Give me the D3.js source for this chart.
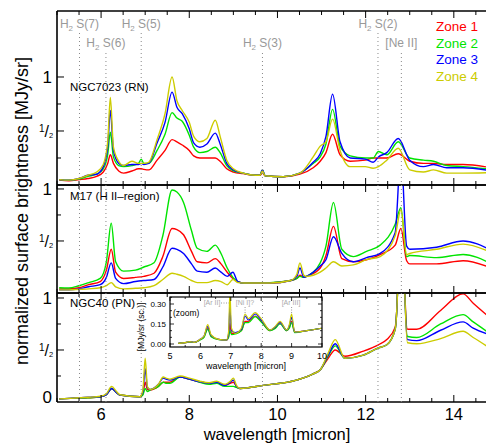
<!DOCTYPE html>
<html>
<head>
<meta charset="utf-8">
<script src="https://cdn.jsdelivr.net/npm/d3@7"></script>
<style>
  body { margin: 0; background: #fff; }
  svg { font-family: "Liberation Sans", Arial, Helvetica, sans-serif; }
</style>
</head>
<body>
<script>
// ---- NGC7023 (reflection nebula) ----
const rn_wl = [5.05, 5.27, 5.5, 5.7, 5.9, 6.05, 6.15, 6.21, 6.28, 6.4, 6.51, 6.7, 6.85, 6.91, 6.97, 7.08, 7.27, 7.45, 7.61, 7.72, 7.84, 8.0, 8.1, 8.24, 8.4, 8.59, 8.7, 8.85, 9.0, 9.22, 9.5, 9.6, 9.66, 9.72, 10.13, 10.51, 10.81, 10.97, 11.1, 11.25, 11.42, 11.65, 11.99, 12.17, 12.29, 12.48, 12.74, 13.0, 13.31, 13.54, 13.84, 14.21, 14.85];
const rn_z1 = [0.045, 0.04, 0.05, 0.06, 0.08, 0.12, 0.2, 0.28, 0.2, 0.13, 0.11, 0.13, 0.15, 0.15, 0.145, 0.14, 0.23, 0.32, 0.42, 0.40, 0.37, 0.32, 0.27, 0.25, 0.25, 0.25, 0.22, 0.15, 0.12, 0.105, 0.09, 0.09, 0.11, 0.085, 0.077, 0.1, 0.16, 0.22, 0.30, 0.47, 0.28, 0.22, 0.23, 0.25, 0.25, 0.25, 0.29, 0.22, 0.20, 0.20, 0.19, 0.19, 0.16];
const rn_z2 = [0.05, 0.045, 0.055, 0.08, 0.1, 0.15, 0.28, 0.49, 0.26, 0.18, 0.17, 0.18, 0.2, 0.24, 0.2, 0.2, 0.32, 0.47, 0.67, 0.62, 0.59, 0.46, 0.35, 0.30, 0.31, 0.35, 0.30, 0.18, 0.13, 0.11, 0.09, 0.09, 0.14, 0.085, 0.077, 0.11, 0.2, 0.26, 0.38, 0.70, 0.36, 0.27, 0.25, 0.25, 0.31, 0.28, 0.40, 0.25, 0.23, 0.22, 0.18, 0.17, 0.145];
const rn_z3 = [0.05, 0.045, 0.06, 0.09, 0.1, 0.17, 0.35, 0.69, 0.32, 0.2, 0.18, 0.19, 0.19, 0.20, 0.19, 0.2, 0.39, 0.58, 0.86, 0.72, 0.66, 0.52, 0.39, 0.35, 0.38, 0.48, 0.38, 0.20, 0.14, 0.11, 0.09, 0.09, 0.14, 0.085, 0.077, 0.11, 0.21, 0.29, 0.45, 0.84, 0.40, 0.25, 0.24, 0.21, 0.26, 0.30, 0.43, 0.23, 0.17, 0.19, 0.16, 0.16, 0.13];
const rn_z4 = [0.05, 0.045, 0.06, 0.09, 0.12, 0.19, 0.4, 0.81, 0.35, 0.22, 0.18, 0.22, 0.2, 0.2, 0.2, 0.21, 0.42, 0.66, 1.0, 0.78, 0.69, 0.58, 0.45, 0.40, 0.43, 0.60, 0.45, 0.23, 0.15, 0.11, 0.09, 0.09, 0.13, 0.085, 0.077, 0.11, 0.26, 0.36, 0.40, 0.61, 0.32, 0.17, 0.17, 0.155, 0.17, 0.23, 0.34, 0.14, 0.12, 0.14, 0.11, 0.11, 0.115];

// ---- M17 (H II region) ----
const m17_wl = [5.05, 5.27, 5.5, 5.72, 5.98, 6.12, 6.23, 6.33, 6.51, 6.78, 6.97, 7.2, 7.4, 7.61, 7.72, 7.87, 8.05, 8.18, 8.4, 8.59, 8.72, 8.86, 8.99, 9.1, 9.24, 9.83, 10.3, 10.44, 10.51, 10.6, 10.66, 10.97, 11.1, 11.27, 11.46, 11.72, 12.02, 12.33, 12.67, 12.8, 12.93, 13.0, 13.61, 14.21, 14.85];
const m17_z1 = [0.04, 0.04, 0.05, 0.08, 0.11, 0.22, 0.42, 0.2, 0.14, 0.15, 0.16, 0.19, 0.35, 0.62, 0.61, 0.56, 0.4, 0.30, 0.29, 0.33, 0.28, 0.20, 0.14, 0.11, 0.096, 0.096, 0.12, 0.14, 0.17, 0.15, 0.16, 0.24, 0.36, 0.64, 0.33, 0.30, 0.32, 0.37, 0.46, 0.62, 0.31, 0.28, 0.28, 0.31, 0.24];
const m17_z2 = [0.05, 0.048, 0.07, 0.10, 0.14, 0.3, 0.67, 0.3, 0.21, 0.22, 0.25, 0.29, 0.55, 0.99, 0.97, 0.87, 0.6, 0.43, 0.40, 0.46, 0.38, 0.24, 0.15, 0.11, 0.096, 0.10, 0.12, 0.14, 0.16, 0.15, 0.16, 0.29, 0.45, 0.87, 0.42, 0.35, 0.40, 0.46, 0.66, 0.82, 0.35, 0.36, 0.34, 0.37, 0.28];
const m17_z3 = [0.03, 0.03, 0.04, 0.06, 0.08, 0.15, 0.29, 0.14, 0.09, 0.11, 0.12, 0.13, 0.25, 0.43, 0.42, 0.38, 0.28, 0.21, 0.20, 0.24, 0.2, 0.16, 0.20, 0.11, 0.096, 0.096, 0.12, 0.16, 0.24, 0.15, 0.16, 0.26, 0.32, 0.54, 0.38, 0.30, 0.34, 0.38, 0.58, 1.35, 0.45, 0.42, 0.44, 0.50, 0.41];
const m17_z4 = [0.03, 0.03, 0.035, 0.04, 0.05, 0.07, 0.10, 0.06, 0.04, 0.045, 0.05, 0.07, 0.13, 0.19, 0.18, 0.16, 0.12, 0.10, 0.10, 0.12, 0.11, 0.08, 0.13, 0.10, 0.096, 0.096, 0.12, 0.18, 0.29, 0.17, 0.16, 0.20, 0.24, 0.30, 0.26, 0.27, 0.32, 0.35, 0.55, 0.80, 0.37, 0.38, 0.42, 0.47, 0.39];

// ---- NGC40 (planetary nebula) ----
const pn_wl = [5.05, 5.3, 5.7, 5.98, 6.12, 6.24, 6.35, 6.43, 6.88, 6.95, 7.0, 7.05, 7.11, 7.3, 7.41, 7.47, 7.56, 7.79, 8.0, 8.24, 8.45, 8.62, 8.8, 8.93, 9.0, 9.07, 9.15, 9.68, 10.43, 10.81, 10.97, 11.15, 11.31, 11.53, 11.95, 12.29, 12.48, 12.67, 12.74, 12.81, 12.88, 12.95, 13.16, 13.7, 14.21, 14.44, 14.85];
const pn_z1 = [0.03, 0.035, 0.04, 0.05, 0.07, 0.13, 0.09, 0.067, 0.05, 0.08, 0.19, 0.12, 0.115, 0.15, 0.19, 0.19, 0.19, 0.24, 0.22, 0.195, 0.18, 0.19, 0.16, 0.18, 0.19, 0.15, 0.13, 0.16, 0.21, 0.27, 0.31, 0.42, 0.50, 0.44, 0.49, 0.55, 0.60, 0.72, 1.3, 3.0, 1.2, 0.70, 0.70, 0.88, 1.04, 0.95, 0.80];
const pn_z2 = [0.03, 0.035, 0.04, 0.05, 0.07, 0.13, 0.09, 0.067, 0.05, 0.07, 0.13, 0.1, 0.115, 0.15, 0.19, 0.18, 0.18, 0.24, 0.22, 0.19, 0.17, 0.18, 0.15, 0.15, 0.15, 0.14, 0.13, 0.16, 0.21, 0.27, 0.31, 0.44, 0.54, 0.42, 0.45, 0.52, 0.55, 0.70, 1.3, 3.0, 1.2, 0.63, 0.62, 0.75, 0.84, 0.77, 0.65];
const pn_z3 = [0.03, 0.035, 0.045, 0.05, 0.07, 0.13, 0.09, 0.067, 0.05, 0.1, 0.32, 0.14, 0.12, 0.17, 0.23, 0.22, 0.21, 0.24, 0.22, 0.195, 0.18, 0.19, 0.16, 0.19, 0.21, 0.15, 0.13, 0.16, 0.21, 0.27, 0.31, 0.45, 0.56, 0.42, 0.45, 0.52, 0.55, 0.70, 1.3, 3.0, 1.2, 0.60, 0.59, 0.69, 0.77, 0.71, 0.64];
const pn_z4 = [0.03, 0.035, 0.045, 0.055, 0.08, 0.15, 0.1, 0.07, 0.05, 0.12, 0.42, 0.15, 0.12, 0.17, 0.24, 0.23, 0.22, 0.25, 0.23, 0.2, 0.185, 0.2, 0.17, 0.2, 0.23, 0.16, 0.13, 0.16, 0.21, 0.27, 0.31, 0.47, 0.60, 0.42, 0.45, 0.52, 0.55, 0.70, 1.3, 3.0, 1.2, 0.57, 0.56, 0.61, 0.68, 0.62, 0.51];

// ---- NGC40 inset (zoom, 5-10 micron) ----
const zoom_wl = [5.27, 5.5, 5.65, 5.8, 5.99, 6.12, 6.24, 6.35, 6.6, 6.86, 6.93, 6.97, 7.02, 7.15, 7.35, 7.47, 7.58, 7.8, 8.0, 8.29, 8.45, 8.62, 8.84, 8.93, 9.0, 9.1, 9.5, 9.99];
const zoom_z1 = [0.005, 0.01, 0.015, 0.012, 0.033, 0.055, 0.12, 0.06, 0.035, 0.03, 0.06, 0.155, 0.08, 0.08, 0.1, 0.17, 0.17, 0.21, 0.17, 0.1, 0.12, 0.16, 0.1, 0.13, 0.17, 0.09, 0.1, 0.118];
const zoom_z2 = [0.005, 0.01, 0.015, 0.012, 0.03, 0.05, 0.11, 0.055, 0.033, 0.03, 0.05, 0.10, 0.07, 0.075, 0.1, 0.16, 0.16, 0.205, 0.165, 0.1, 0.115, 0.15, 0.1, 0.12, 0.16, 0.085, 0.1, 0.118];
const zoom_z3 = [0.005, 0.01, 0.018, 0.012, 0.035, 0.06, 0.13, 0.065, 0.035, 0.03, 0.08, 0.28, 0.1, 0.085, 0.11, 0.21, 0.18, 0.225, 0.18, 0.105, 0.125, 0.16, 0.105, 0.14, 0.2, 0.09, 0.1, 0.118];
const zoom_z4 = [0.005, 0.01, 0.018, 0.012, 0.035, 0.06, 0.145, 0.07, 0.035, 0.03, 0.1, 0.4, 0.12, 0.08, 0.12, 0.225, 0.19, 0.235, 0.19, 0.105, 0.13, 0.17, 0.105, 0.15, 0.225, 0.09, 0.1, 0.118];

const zoneNames = ["Zone 1", "Zone 2", "Zone 3", "Zone 4"];
const xTickLabels = [6, 8, 10, 12, 14];

// emission line markers
const lineWl = [5.51, 6.11, 6.91, 9.66, 12.28, 12.81];
const lineName = ["S(7)", "S(6)", "S(5)", "S(3)", "S(2)", "[Ne II]"];
const lineIsH2 = [true, true, true, true, true, false];
const lineRow = [0, 1, 0, 1, 0, 1];

const colors = ["#ff0000", "#00e400", "#0000ff", "#cccc00"];
const W = 486, H = 444;

let svg = d3.select("body").append("svg")
  .attr("width", W)
  .attr("height", H);

const x = d3.scaleLinear().domain([5, 14.866]).range([57, 492]);

const panels = [
  { name: "NGC7023 (RN)", wl: rn_wl, zones: [rn_z1, rn_z2, rn_z3, rn_z4], top: 11, bottom: 185, ymax: 1.611, labels: [1, 0.5], nameY: 91 },
  { name: "M17 (H II\u2013region)", wl: m17_wl, zones: [m17_z1, m17_z2, m17_z3, m17_z4], top: 185, bottom: 293, ymax: 1.038, labels: [1, 0.5], nameY: 200 },
  { name: "NGC40 (PN)", wl: pn_wl, zones: [pn_z1, pn_z2, pn_z3, pn_z4], top: 293, bottom: 402, ymax: 1.048, labels: [1, 0.5], nameY: 307 }
];

const defs = svg.append("defs");

// "1/2" drawn as small raised 1, slash, small lowered 2
function yLabel(g, v, yy) {
  if (v === 0.5) {
    const t = g.append("text").attr("x", 39).attr("y", yy + 1);
    t.append("tspan").attr("font-size", 10).text("1");
    t.append("tspan").attr("font-size", 16).attr("dy", 5).text("/");
    t.append("tspan").attr("font-size", 7.5).attr("dy", 1.5).text("2");
  } else {
    g.append("text").attr("x", 52).attr("y", yy + 6).attr("text-anchor", "end")
      .attr("font-size", 17).text(v);
  }
}

panels.forEach((p, pi) => {
  const y = d3.scaleLinear().domain([0, p.ymax]).range([p.bottom, p.top]);
  const clipId = "clip" + pi;
  defs.append("clipPath").attr("id", clipId)
    .append("rect").attr("x", 57).attr("y", p.top).attr("width", 440).attr("height", p.bottom - p.top);

  const line = d3.line()
    .x((d, i) => x(p.wl[i]))
    .y(d => y(d))
    .curve(d3.curveMonotoneX);

  const g = svg.append("g").attr("clip-path", `url(#${clipId})`);
  p.zones.forEach((z, zi) => {
    g.append("path")
      .attr("d", line(z))
      .attr("fill", "none")
      .attr("stroke", colors[zi])
      .attr("stroke-width", 1.4);
  });

  // ticks
  const ax = svg.append("g").attr("stroke", "#000");
  d3.range(5, 15, 0.5).forEach(t => {
    const len = (t % 2 === 0) ? 7 : 4;
    ax.append("line").attr("x1", x(t)).attr("x2", x(t))
      .attr("y1", p.bottom).attr("y2", p.bottom - len).attr("stroke-width", 1);
    ax.append("line").attr("x1", x(t)).attr("x2", x(t))
      .attr("y1", p.top).attr("y2", p.top + len).attr("stroke-width", 1);
  });
  d3.range(0.25, Math.min(p.ymax, 1.01), 0.25).forEach(t => {
    const len = (t % 0.5 === 0) ? 7 : 4;
    ax.append("line").attr("x1", 57).attr("x2", 57 + len)
      .attr("y1", y(t)).attr("y2", y(t)).attr("stroke-width", 1);
  });
  // frame
  ax.append("line").attr("x1", 57).attr("x2", W).attr("y1", p.top).attr("y2", p.top).attr("stroke-width", 1.6);
  ax.append("line").attr("x1", 57).attr("x2", W).attr("y1", p.bottom).attr("y2", p.bottom).attr("stroke-width", 1.6);
  ax.append("line").attr("x1", 57).attr("x2", 57).attr("y1", p.top).attr("y2", p.bottom).attr("stroke-width", 1.6);

  const lg = svg.append("g").attr("fill", "#000");
  p.labels.forEach(v => yLabel(lg, v, y(v)));
  if (pi === 2) yLabel(lg, 0, y(0) - 5);

  svg.append("text").attr("x", 70).attr("y", p.nameY)
    .attr("font-size", 11.5).text(p.name);
});

// x tick labels
svg.append("g").selectAll("text")
  .data(xTickLabels)
  .enter().append("text")
  .attr("x", d => x(d))
  .attr("y", 420)
  .attr("text-anchor", "middle")
  .attr("font-size", 16.5)
  .text(d => d);

// axis titles
svg.append("text")
  .attr("x", 277).attr("y", 440)
  .attr("text-anchor", "middle")
  .attr("font-size", 16.5)
  .text("wavelength [micron]");

svg.append("text")
  .attr("transform", "translate(28,211) rotate(-90)")
  .attr("text-anchor", "middle")
  .attr("font-size", 18)
  .text("normalized surface brightness [MJy/sr]");

// legend
svg.append("g").selectAll("text")
  .data(zoneNames)
  .enter().append("text")
  .attr("x", 478)
  .attr("y", (d, i) => 31 + i * 16.7)
  .attr("text-anchor", "end")
  .attr("font-size", 13.5)
  .attr("fill", (d, i) => colors[i])
  .text(d => d);

// ---- inset ----
const ix = d3.scaleLinear().domain([5, 10]).range([170, 322]);
const iy = d3.scaleLinear().domain([-0.0225, 0.3525]).range([347, 297]);
defs.append("clipPath").attr("id", "clipInset")
  .append("rect").attr("x", 170).attr("y", 297).attr("width", 152).attr("height", 50);

svg.append("rect").attr("x", 170).attr("y", 297).attr("width", 152).attr("height", 50)
  .attr("fill", "#fff");

const iline = d3.line()
  .x((d, i) => ix(zoom_wl[i]))
  .y(d => iy(d))
  .curve(d3.curveMonotoneX);

const ig = svg.append("g").attr("clip-path", "url(#clipInset)");
[zoom_z1, zoom_z2, zoom_z3, zoom_z4].forEach((z, zi) => {
  ig.append("path").attr("d", iline(z))
    .attr("fill", "none").attr("stroke", colors[zi]).attr("stroke-width", 1.2);
});

const iax = svg.append("g").attr("stroke", "#000").attr("stroke-width", 0.8);
d3.range(5, 10.01, 0.5).forEach(t => {
  const len = (t % 1 === 0) ? 4 : 2;
  iax.append("line").attr("x1", ix(t)).attr("x2", ix(t)).attr("y1", 347).attr("y2", 347 - len);
  iax.append("line").attr("x1", ix(t)).attr("x2", ix(t)).attr("y1", 297).attr("y2", 297 + len);
});
d3.range(0, 0.351, 0.05).forEach(t => {
  const major = Math.abs(t / 0.15 - Math.round(t / 0.15)) < 1e-6;
  const len = major ? 4 : 2;
  iax.append("line").attr("x1", 170).attr("x2", 170 + len).attr("y1", iy(t)).attr("y2", iy(t));
  iax.append("line").attr("x1", 322).attr("x2", 322 - len).attr("y1", iy(t)).attr("y2", iy(t));
});
svg.append("rect").attr("x", 170).attr("y", 297).attr("width", 152).attr("height", 50)
  .attr("fill", "none").attr("stroke", "#000").attr("stroke-width", 1.2);

svg.append("g").selectAll("text")
  .data([0, 0.15, 0.30])
  .enter().append("text")
  .attr("x", 166).attr("y", d => iy(d) + 3)
  .attr("text-anchor", "end").attr("font-size", 8)
  .text(d => d.toFixed(2));

svg.append("g").selectAll("text")
  .data([5, 6, 7, 8, 9, 10])
  .enter().append("text")
  .attr("x", d => ix(d)).attr("y", 359)
  .attr("text-anchor", "middle").attr("font-size", 9)
  .text(d => d);

svg.append("text").attr("x", 246).attr("y", 369)
  .attr("text-anchor", "middle").attr("font-size", 9)
  .text("wavelength [micron]");
svg.append("text").attr("transform", "translate(144,327) rotate(-90)")
  .attr("text-anchor", "middle").attr("font-size", 8.5)
  .text("[MJy/sr (sc.)]");
svg.append("text").attr("x", 173).attr("y", 316).attr("font-size", 8.5).text("(zoom)");

// inset line annotations
const ann = svg.append("g").attr("fill", "#aaa").attr("font-size", 7);
ann.append("text").attr("x", 212).attr("y", 305).attr("text-anchor", "middle").text("[Ar II]");
ann.append("text").attr("x", 245).attr("y", 305).attr("text-anchor", "middle").text("[Ni I]?");
ann.append("text").attr("x", 291).attr("y", 305).attr("text-anchor", "middle").text("[Ar III]");
const annL = svg.append("g").attr("stroke", "#999").attr("stroke-width", 1).attr("stroke-dasharray", "1,1.5");
annL.append("line").attr("x1", 221).attr("x2", 229).attr("y1", 303).attr("y2", 303);
annL.append("line").attr("x1", ix(7.47)).attr("x2", ix(7.47)).attr("y1", 307).attr("y2", 313);
annL.append("line").attr("x1", ix(9.0)).attr("x2", ix(9.0)).attr("y1", 307).attr("y2", 314);

// emission line markers (dotted) and labels
lineWl.forEach((w, i) => {
  const yTop = lineRow[i] === 0 ? 33 : 53;
  svg.append("line")
    .attr("x1", x(w)).attr("x2", x(w))
    .attr("y1", yTop).attr("y2", 402)
    .attr("stroke", "#888").attr("stroke-width", 1)
    .attr("stroke-dasharray", "1,3");
  const t = svg.append("text")
    .attr("x", x(w)).attr("y", lineRow[i] === 0 ? 28 : 47)
    .attr("text-anchor", "middle")
    .attr("font-size", 12)
    .attr("fill", "#999");
  if (lineIsH2[i]) {
    t.append("tspan").text("H");
    t.append("tspan").attr("font-size", 8).attr("dy", 3).text("2");
    t.append("tspan").attr("dy", -3).text(" " + lineName[i]);
  } else {
    t.text(lineName[i]);
  }
});
</script>
</body>
</html>
